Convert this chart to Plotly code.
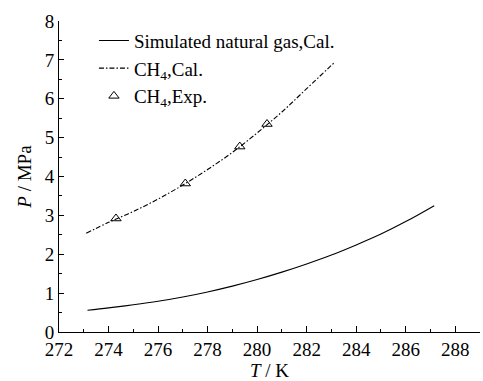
import plotly.graph_objects as go

# Simulated natural gas, calculated
T_ng = [273.15, 274.0, 275.0, 276.0, 277.0, 278.0, 279.0, 280.0, 281.0, 282.0, 283.0, 284.0, 285.0, 286.0, 287.15]
P_ng = [0.56, 0.62, 0.70, 0.79, 0.90, 1.03, 1.18, 1.35, 1.54, 1.75, 1.98, 2.24, 2.52, 2.84, 3.25]

# CH4, calculated
T_ch4 = [273.1, 274.0, 275.0, 276.0, 277.0, 278.0, 279.0, 280.0, 281.0, 282.0, 283.15]
P_ch4 = [2.54, 2.82, 3.10, 3.42, 3.78, 4.18, 4.62, 5.12, 5.66, 6.26, 6.95]

# CH4, experimental
T_exp = [274.3, 277.1, 279.3, 280.4]
P_exp = [2.92, 3.82, 4.77, 5.35]

FONT = "Times New Roman, Liberation Serif, DejaVu Serif, serif"

fig = go.Figure()
fig.add_trace(go.Scatter(x=T_ng, y=P_ng, mode="lines", name="Simulated natural gas,Cal.",
                         line=dict(color="black", width=1.1, shape="spline", smoothing=1)))
fig.add_trace(go.Scatter(x=T_ch4, y=P_ch4, mode="lines", name="CH<sub>4</sub>,Cal.",
                         line=dict(color="black", width=1.1, dash="5px,2px,1.5px,2px", shape="spline")))
fig.add_trace(go.Scatter(x=T_exp, y=P_exp, mode="markers", name="CH<sub>4</sub>,Exp.",
                         marker=dict(symbol="triangle-up-open", size=9, color="black",
                                     line=dict(width=1, color="black"))))

fig.update_layout(
    width=483, height=381,
    margin=dict(l=59, r=3, t=21, b=49),
    paper_bgcolor="white", plot_bgcolor="white",
    font=dict(family=FONT, size=18, color="black"),
    showlegend=True,
    legend=dict(x=0.083, y=0.998, xanchor="left", yanchor="top",
                bgcolor="rgba(0,0,0,0)", font=dict(size=19, family=FONT),
                tracegroupgap=0, itemwidth=30),
    xaxis=dict(range=[272, 289], dtick=2, tick0=272, showgrid=False, zeroline=False,
               showline=True, linecolor="black", linewidth=1,
               ticks="inside", ticklen=6, tickcolor="black",
               minor=dict(ticks="inside", ticklen=3, dtick=1, tickcolor="black", showgrid=False),
               title=dict(text="<i>T</i> / K", standoff=4, font=dict(size=19, family=FONT)),
               tickfont=dict(size=19, family=FONT)),
    yaxis=dict(range=[0, 8], dtick=1, showgrid=False, zeroline=False,
               showline=True, linecolor="black", linewidth=1,
               ticks="inside", ticklen=5, tickcolor="black",
               minor=dict(ticks="inside", ticklen=3, dtick=0.5, tickcolor="black", showgrid=False),
               title=dict(text="<i>P</i> / MPa", standoff=8, font=dict(size=19, family=FONT)),
               tickfont=dict(size=19, family=FONT)),
)

fig.write_html("out.html")
